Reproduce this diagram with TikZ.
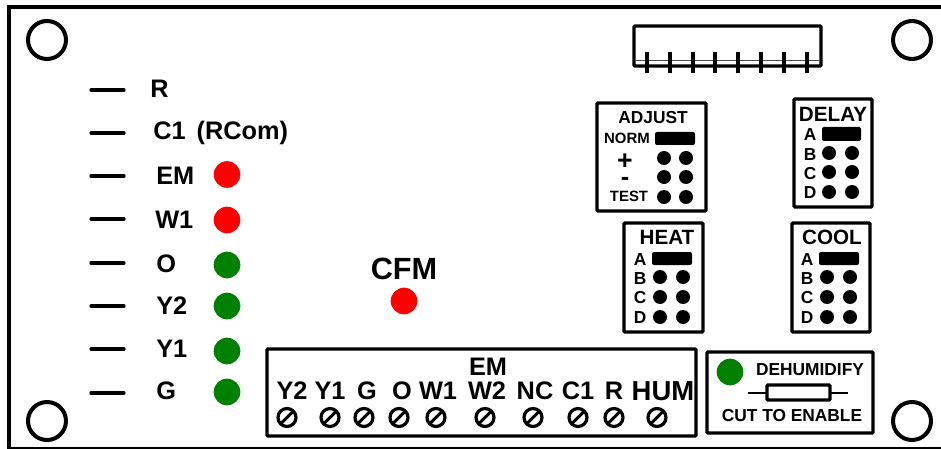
\documentclass[tikz,border=0pt]{standalone}
\usepackage{fontspec}
\setmainfont{Liberation Sans}
\definecolor{ledred}{RGB}{255,0,0}
\definecolor{ledgreen}{RGB}{0,128,0}
\tikzset{
  x=0.75pt,y=-0.75pt,
  heavy/.style={draw=black,line width=2.6pt,rounded corners=0.8pt},
  dashmark/.style={draw=black,line width=2.5pt,line cap=round},
  hole/.style={draw=black,line width=3pt,fill=white},
  pindot/.style={fill=black,draw=none},
  jumper/.style={fill=black,draw=none,rounded corners=1.5pt},
  ledr/.style={circle,fill=ledred,draw=none,minimum size=20pt,inner sep=0pt},
  ledg/.style={circle,fill=ledgreen,draw=none,minimum size=20pt,inner sep=0pt},
  llab/.style={inner sep=0pt,anchor=west,font=\fontsize{19}{21}\selectfont\bfseries},
  termlab/.style={inner sep=0pt,font=\fontsize{19}{21}\selectfont\bfseries},
  small/.style={inner sep=0pt,font=\fontsize{13}{15}\selectfont\bfseries},
  smaller/.style={inner sep=0pt,font=\fontsize{11.2}{13}\selectfont\bfseries},
  jlab/.style={inner sep=0pt,font=\fontsize{13}{15}\selectfont\bfseries},
  title/.style={inner sep=0pt,font=\fontsize{15.5}{17}\selectfont\bfseries},
}
\begin{document}
\begin{tikzpicture}
\useasboundingbox (0,0) rectangle (941,449);
\fill[white] (0,0) rectangle (941,449);
\begin{scope}
\clip (0,0) rectangle (941,449);
\draw[draw=black,line width=3pt] (9,7.5) rectangle (960,449);
\end{scope}
% mounting holes
\foreach \p in {(47,40),(912,40),(47,421),(912,421)} \draw[hole] \p circle (19);
% header
\draw[draw=black!70,line width=0.6pt] (636,60) -- (819,60);
\draw[heavy] (634,26) rectangle (821,66);
\foreach \i in {0,...,7} \draw[draw=black,line width=3pt] ({647+22.8*\i},52) -- ({647+22.8*\i},73);
% left column
\foreach \y in {90,133,176,219,263,306,349,393} \draw[dashmark] (91,\y) -- (124,\y);
\node[llab] (lr) at (150,89) {R};
\node[llab] (lc) at (153,133) {C1\hspace{3pt} (RCom)};
\node[llab] (lem) at (156,176) {EM};
\node[llab] (lw) at (155,219.5) {W1};
\node[llab] (lo) at (156,264) {O};
\node[llab] (ly2) at (156,306) {Y2};
\node[llab] (ly1) at (156,349) {Y1};
\node[llab] (lg) at (156,391) {G};
\node[ledr] (d1) at (227,174.5) {};
\node[ledr] (d2) at (227,220) {};
\node[ledg] (d3) at (227,265) {};
\node[ledg] (d4) at (227,306) {};
\node[ledg] (d5) at (227,351) {};
\node[ledg] (d6) at (227,392) {};
% CFM
\node[inner sep=0pt,font=\fontsize{23}{25}\selectfont\bfseries] (cfm) at (404,269) {CFM};
\node[ledr] (dcfm) at (404,301) {};
% terminal block
\draw[heavy] (267,349) rectangle (696,436);
\node[termlab] (em) at (488,367) {EM};
\foreach \n/\x/\t in {a/292/Y2,b/330/Y1,c/367/G,d/402/O,e/438/W1,f/487/W2,g/535/NC,h/578/C1,i/614/R}
  \node[termlab] (t\n) at (\x,391) {\t};
\node[termlab,font=\fontsize{20.6}{22}\selectfont\bfseries] (tj) at (663,391) {HUM};
\foreach \x in {287,330,364,399,436,485,533,578,614,657} {
  \draw[draw=black,line width=2.4pt] (\x,417.5) circle (9);
  \draw[draw=black,line width=2.2pt] (\x-6.5,424) -- (\x+6.5,411);
}
% ADJUST
\draw[heavy] (597,103) rectangle (706,211);
\node[small] (adj) at (653,118) {ADJUST};
\node[smaller] (norm) at (627,138.5) {NORM};
\node[inner sep=0pt,font=\fontsize{20}{22}\selectfont\bfseries] (plus) at (625,162) {+};
\node[inner sep=0pt,font=\fontsize{19}{21}\selectfont\bfseries] (minus) at (625,181) {-};
\node[smaller] (test) at (629,196) {TEST};
\fill[jumper] (655,132) rectangle (695,145);
\foreach \x in {664,686} \foreach \y in {158,177,197} \fill[pindot] (\x,\y) circle (7);
% DELAY
\draw[heavy] (794,99) rectangle (872,207);
\node[title] (delay) at (833,114) {DELAY};
\node[jlab] (da) at (810,135) {A};
\node[jlab] (db) at (810,154.5) {B};
\node[jlab] (dc) at (810,174) {C};
\node[jlab] (dd) at (810,193) {D};
\fill[jumper] (822,127) rectangle (861,141);
\foreach \x in {829,852} \foreach \y in {153,172,192} \fill[pindot] (\x,\y) circle (7);
% HEAT
\draw[heavy] (624,223) rectangle (703,332);
\node[title] (heat) at (667,237.5) {HEAT};
\node[jlab] (ha) at (640,260) {A};
\node[jlab] (hb) at (640,279) {B};
\node[jlab] (hc) at (640,298) {C};
\node[jlab] (hd) at (640,318) {D};
\fill[jumper] (652,252) rectangle (692,265);
\foreach \x in {660,683} \foreach \y in {277,297,317} \fill[pindot] (\x,\y) circle (7);
% COOL
\draw[heavy] (792,223) rectangle (870,332);
\node[title] (cool) at (832,237.5) {COOL};
\node[jlab] (ca) at (807,260) {A};
\node[jlab] (cb) at (807,279) {B};
\node[jlab] (cc) at (807,298) {C};
\node[jlab] (cd) at (807,318) {D};
\fill[jumper] (819,252) rectangle (859,265);
\foreach \x in {827,850} \foreach \y in {277,297,317} \fill[pindot] (\x,\y) circle (7);
% DEHUMIDIFY
\draw[heavy] (707,352) rectangle (873,433);
\node[ledg] (dh) at (730,372) {};
\node[small] (dehum) at (810,370) {DEHUMIDIFY};
\draw[draw=black,line width=1.5pt] (748,392.5) -- (848,392.5);
\draw[heavy,fill=white] (767,385) rectangle (830,400);
\node[small] (cut) at (792,416) {CUT TO ENABLE};
\end{tikzpicture}
\end{document}
